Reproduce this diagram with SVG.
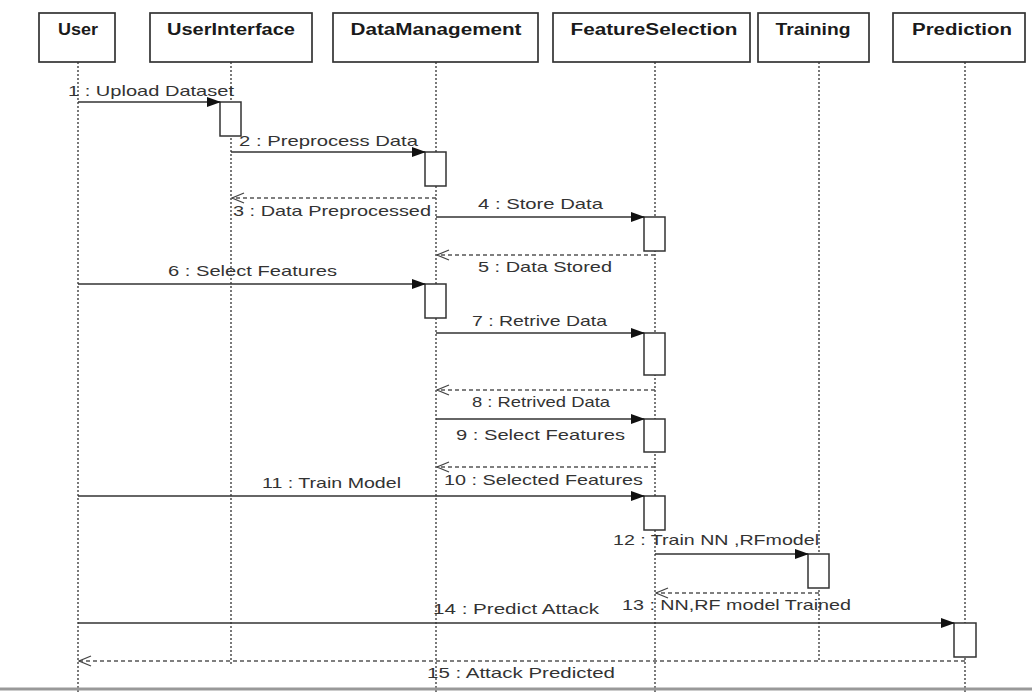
<svg xmlns="http://www.w3.org/2000/svg" width="1032" height="693" viewBox="0 0 1032 693">
<defs>
<style>
.box{fill:#fff;stroke:#333;stroke-width:1.7}
.hdr{font-family:"Liberation Sans",Arial,sans-serif;font-weight:bold;font-size:16px;fill:#1a1a1a;text-anchor:middle}
.life{stroke:#333;stroke-width:1.3;stroke-dasharray:2 2;fill:none}
.msg{stroke:#333;stroke-width:1.5;fill:none}
.ret{stroke:#555;stroke-width:1.3;stroke-dasharray:4 3;fill:none}
.act{fill:#fff;stroke:#333;stroke-width:1.5}
.lbl{font-family:"Liberation Sans",Arial,sans-serif;font-size:15px;fill:#333}
</style>
<marker id="fill" markerWidth="14" markerHeight="10" refX="13" refY="5" orient="auto" markerUnits="userSpaceOnUse">
<path d="M0,0 L14,5 L0,10 Z" fill="#111"/>
</marker>
<marker id="open" markerWidth="14" markerHeight="12" refX="13" refY="6" orient="auto" markerUnits="userSpaceOnUse">
<path d="M1,1 L13,6 L1,11" fill="none" stroke="#444" stroke-width="1.3"/>
</marker>
</defs>
<rect width="1032" height="693" fill="#fff"/>

<g id="lifelines">
<line class="life" x1="78" y1="62" x2="78" y2="693"/>
<line class="life" x1="231" y1="62" x2="231" y2="665"/>
<line class="life" x1="436" y1="62" x2="436" y2="693"/>
<line class="life" x1="655" y1="62" x2="655" y2="693"/>
<line class="life" x1="819" y1="62" x2="819" y2="660"/>
<line class="life" x1="965" y1="62" x2="965" y2="693"/>
</g>

<g id="User"><rect class="box" x="39" y="13" width="76" height="49"/><text class="hdr" x="78" y="35" textLength="40" lengthAdjust="spacingAndGlyphs">User</text></g>
<g id="UserInterface"><rect class="box" x="150" y="13" width="162" height="49"/><text class="hdr" x="231" y="35" textLength="128" lengthAdjust="spacingAndGlyphs">UserInterface</text></g>
<g id="DataManagement"><rect class="box" x="333" y="13" width="205" height="49"/><text class="hdr" x="436" y="35" textLength="171" lengthAdjust="spacingAndGlyphs">DataManagement</text></g>
<g id="FeatureSelection"><rect class="box" x="553" y="13" width="197" height="49"/><text class="hdr" x="654" y="35" textLength="167" lengthAdjust="spacingAndGlyphs">FeatureSelection</text></g>
<g id="Training"><rect class="box" x="758" y="13" width="111" height="49"/><text class="hdr" x="813" y="35" textLength="75" lengthAdjust="spacingAndGlyphs">Training</text></g>
<g id="Prediction"><rect class="box" x="893" y="13" width="132" height="49"/><text class="hdr" x="962" y="35" textLength="100" lengthAdjust="spacingAndGlyphs">Prediction</text></g>

<g id="activations">
<rect class="act" x="220" y="102" width="21" height="34"/>
<rect class="act" x="425" y="152" width="21" height="34"/>
<rect class="act" x="644" y="217" width="21" height="34"/>
<rect class="act" x="425" y="284" width="21" height="34"/>
<rect class="act" x="644" y="333" width="21" height="42"/>
<rect class="act" x="644" y="419" width="21" height="33"/>
<rect class="act" x="644" y="496" width="21" height="34"/>
<rect class="act" x="808" y="554" width="21" height="34"/>
<rect class="act" x="954" y="623" width="22" height="34"/>
</g>

<g id="connectors">
<line class="msg" x1="78" y1="102" x2="220" y2="102" marker-end="url(#fill)"/>
<line class="msg" x1="231" y1="152" x2="425" y2="152" marker-end="url(#fill)"/>
<line class="ret" x1="436" y1="198" x2="232" y2="198" marker-end="url(#open)"/>
<line class="msg" x1="436" y1="217" x2="644" y2="217" marker-end="url(#fill)"/>
<line class="ret" x1="655" y1="255" x2="437" y2="255" marker-end="url(#open)"/>
<line class="msg" x1="78" y1="284" x2="425" y2="284" marker-end="url(#fill)"/>
<line class="msg" x1="436" y1="333" x2="644" y2="333" marker-end="url(#fill)"/>
<line class="ret" x1="655" y1="390" x2="437" y2="390" marker-end="url(#open)"/>
<line class="msg" x1="436" y1="419" x2="644" y2="419" marker-end="url(#fill)"/>
<line class="ret" x1="655" y1="467" x2="437" y2="467" marker-end="url(#open)"/>
<line class="msg" x1="78" y1="496" x2="644" y2="496" marker-end="url(#fill)"/>
<line class="msg" x1="655" y1="554" x2="808" y2="554" marker-end="url(#fill)"/>
<line class="ret" x1="819" y1="593" x2="656" y2="593" marker-end="url(#open)"/>
<line class="msg" x1="78" y1="623" x2="954" y2="623" marker-end="url(#fill)"/>
<line class="ret" x1="965" y1="661" x2="79" y2="661" marker-end="url(#open)"/>
</g>

<g id="labels">
<text class="lbl" x="68" y="96" textLength="166" lengthAdjust="spacingAndGlyphs">1 : Upload Dataset</text>
<text class="lbl" x="239" y="146" textLength="179" lengthAdjust="spacingAndGlyphs">2 : Preprocess Data</text>
<text class="lbl" x="233" y="216" textLength="198" lengthAdjust="spacingAndGlyphs">3 : Data Preprocessed</text>
<text class="lbl" x="478" y="209" textLength="125" lengthAdjust="spacingAndGlyphs">4 : Store Data</text>
<text class="lbl" x="478" y="272" textLength="134" lengthAdjust="spacingAndGlyphs">5 : Data Stored</text>
<text class="lbl" x="168" y="276" textLength="169" lengthAdjust="spacingAndGlyphs">6 : Select Features</text>
<text class="lbl" x="472" y="326" textLength="135" lengthAdjust="spacingAndGlyphs">7 : Retrive Data</text>
<text class="lbl" x="472" y="407" textLength="138" lengthAdjust="spacingAndGlyphs">8 : Retrived Data</text>
<text class="lbl" x="456" y="440" textLength="169" lengthAdjust="spacingAndGlyphs">9 : Select Features</text>
<text class="lbl" x="444" y="485" textLength="199" lengthAdjust="spacingAndGlyphs">10 : Selected Features</text>
<text class="lbl" x="262" y="488" textLength="139" lengthAdjust="spacingAndGlyphs">11 : Train Model</text>
<text class="lbl" x="613" y="545" textLength="206" lengthAdjust="spacingAndGlyphs">12 : Train NN ,RFmodel</text>
<text class="lbl" x="622" y="610" textLength="229" lengthAdjust="spacingAndGlyphs">13 : NN,RF model Trained</text>
<text class="lbl" x="433" y="614" textLength="166" lengthAdjust="spacingAndGlyphs">14 : Predict Attack</text>
<text class="lbl" x="427" y="678" textLength="188" lengthAdjust="spacingAndGlyphs">15 : Attack Predicted</text>
</g>

<line x1="0" y1="689" x2="1032" y2="689" stroke="#999" stroke-width="3"/>
</svg>
